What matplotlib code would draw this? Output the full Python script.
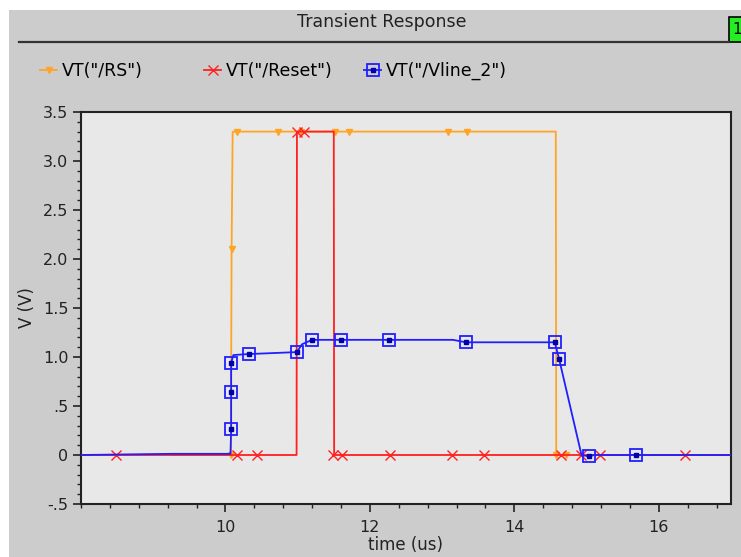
import matplotlib.pyplot as plt
from matplotlib.lines import Line2D
from matplotlib.patches import Rectangle
from matplotlib.ticker import MultipleLocator, FixedLocator, FixedFormatter
from matplotlib.legend_handler import HandlerTuple

# VT("/RS") trace and marker points
rs_t = [9.26, 10.075, 10.08, 10.085, 10.10, 14.574, 14.58, 14.75]
rs_v = [0.0, 0.0, 1.0, 2.1, 3.3, 3.3, 0.0, 0.0]
rs_mark_t = [10.08, 10.085, 10.16, 10.73, 11.05, 11.52, 11.71, 13.08, 13.34, 14.58, 14.72]
rs_mark_v = [0.0, 2.1, 3.3, 3.3, 3.3, 3.3, 3.3, 3.3, 3.3, 0.0, 0.0]

# VT("/Reset")
reset_t = [8.0, 10.985, 10.99, 11.50, 11.505, 17.0]
reset_v = [0.0, 0.0, 3.3, 3.3, 0.0, 0.0]
reset_mark_t = [8.49, 10.16, 10.43, 10.99, 11.09, 11.49, 11.62, 12.28, 13.13, 13.58,
                14.64, 14.93, 15.18, 16.36]
reset_mark_v = [0.0, 0.0, 0.0, 3.3, 3.3, 0.0, 0.0, 0.0, 0.0, 0.0, 0.0, 0.0, 0.0, 0.0]

# VT("/Vline_2")
vline_t = [8.0, 9.26, 10.07, 10.079, 10.079, 10.079, 10.11, 10.32, 10.99, 11.06, 11.20,
           11.60, 12.26, 13.15, 13.33, 14.56, 14.62, 14.93, 15.04, 15.10,
           15.69, 17.0]
vline_v = [0.0, 0.012, 0.012, 0.265, 0.64, 0.94, 1.02, 1.03, 1.05, 1.13, 1.175,
           1.175, 1.175, 1.175, 1.15, 1.15, 0.98, 0.0, -0.015, 0.0,
           0.0, 0.0]
vline_mark_t = [10.079, 10.079, 10.079, 10.32, 10.99, 11.20, 11.60, 12.26, 13.33,
                14.56, 14.62, 15.04, 15.69]
vline_mark_v = [0.265, 0.64, 0.94, 1.03, 1.05, 1.175, 1.175, 1.175, 1.15, 1.15, 0.98,
                -0.015, 0.0]

y_ticks = [-0.5, 0, 0.5, 1.0, 1.5, 2.0, 2.5, 3.0, 3.5]
y_labels = ["-.5", "0", ".5", "1.0", "1.5", "2.0", "2.5", "3.0", "3.5"]
x_ticks = [10, 12, 14, 16]

orange = "#ffa526"
red = "#ff2020"
blue = "#2020ff"

fig = plt.figure(figsize=(7.41, 5.57), dpi=100)
fig.patch.set_facecolor("white")

# grey panel behind everything
fig.patches.append(Rectangle((8.5 / 741, 0), 1, 1 - 10 / 557, transform=fig.transFigure,
                             facecolor="#cccccc", edgecolor="none", zorder=-10))
fig.text(382 / 741, 1 - 22 / 557, "Transient Response", ha="center", va="center",
         fontsize=12.5, color="#222222")
fig.add_artist(Line2D([19 / 741, 729 / 741], [1 - 42 / 557] * 2, transform=fig.transFigure,
                      color="#333333", lw=1.6))
fig.patches.append(Rectangle((729 / 741, 1 - 42 / 557), 20 / 741, 25 / 557,
                             transform=fig.transFigure, facecolor="#22ee22",
                             edgecolor="black", lw=1.2))
fig.text(732 / 741, 1 - 30 / 557, "1", ha="left", va="center", fontsize=11)

ax = fig.add_axes([81 / 741, 53 / 557, 650 / 741, 392 / 557])
ax.set_facecolor("#e8e8e8")

ax.plot(rs_t, rs_v, color=orange, lw=1.3, zorder=2)
ax.plot(rs_mark_t, rs_mark_v, ls="none", marker="v", ms=4.5, color=orange, zorder=2)
ax.plot(reset_t, reset_v, color=red, lw=1.3, zorder=3)
ax.plot(reset_mark_t, reset_mark_v, ls="none", marker="x", ms=7.5, mew=1.0, color=red, zorder=3)
ax.plot(vline_t, vline_v, color=blue, lw=1.3, zorder=4)
ax.plot(vline_mark_t, vline_mark_v, ls="none", marker="s", ms=8, mfc="none", mew=1.3,
        color=blue, zorder=5)
ax.plot(vline_mark_t, vline_mark_v, ls="none", marker="s", ms=2.5, color="#0000aa", zorder=5)

ax.set_xlim(8, 17)
ax.set_ylim(-0.5, 3.5)
ax.yaxis.set_major_locator(FixedLocator(y_ticks))
ax.yaxis.set_major_formatter(FixedFormatter(y_labels))
ax.yaxis.set_minor_locator(MultipleLocator(0.1))
ax.xaxis.set_major_locator(FixedLocator(x_ticks))
ax.xaxis.set_minor_locator(MultipleLocator(0.4))
ax.tick_params(which="major", length=5.5, width=1.2, labelsize=11.5, colors="#222222")
ax.tick_params(axis="x", which="major", pad=6)
ax.tick_params(which="minor", length=3, width=1.0, colors="#222222")
for s in ax.spines.values():
    s.set_linewidth(1.5)
    s.set_color("#222222")

ax.set_xlabel("time (us)", fontsize=12, color="#222222", labelpad=1)
ax.set_ylabel("V (V)", fontsize=12, color="#222222", labelpad=5)

h_rs = Line2D([], [], color=orange, lw=1.3, marker="v", ms=4.5)
h_reset = Line2D([], [], color=red, lw=1.3, marker="x", ms=7.5, mew=1.0)
h_vl1 = Line2D([], [], color=blue, lw=1.3, marker="s", ms=8, mfc="none", mew=1.3)
h_vl2 = Line2D([], [], ls="none", marker="s", ms=2.5, color="#0000aa")
labels = ['VT("/RS")', 'VT("/Reset")', 'VT("/Vline_2")']
handles = [h_rs, h_reset, (h_vl1, h_vl2)]
lefts = [40, 204, 364]
for h, lab, x0 in zip(handles, labels, lefts):
    fig.legend([h], [lab], loc="center left", bbox_to_anchor=(x0 / 741, 1 - 71 / 557),
               frameon=False, fontsize=12.5, handlelength=1.0, handletextpad=0.25,
               borderpad=0, borderaxespad=0, handler_map={tuple: HandlerTuple(ndivide=1)})

fig.savefig("out.png", dpi=100)
